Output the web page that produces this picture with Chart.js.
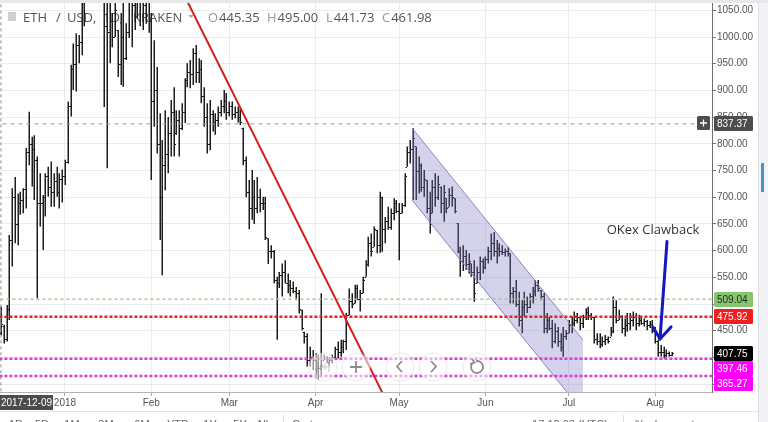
<!DOCTYPE html>
<html>
<head>
<meta charset="utf-8">
<script src="https://cdn.jsdelivr.net/npm/chart.js@4.4.1/dist/chart.umd.min.js"></script>
<style>
  html, body { margin: 0; padding: 0; background: #fff; }
  #wrap { width: 768px; height: 422px; }
</style>
</head>
<body>
<div id="wrap"><canvas id="ethChart" width="768" height="422"></canvas></div>
<script>
// ETH / USD daily bars (Kraken), day 0 = 2017-12-09, one value per day
const opens = [
  445.35, 458, 435, 490, 620, 700, 650, 690, 695, 715,
  785, 800, 790, 770, 690, 690, 700, 740, 720, 710,
  730, 710, 735, 740, 765, 870, 940, 950, 985, 990,
  1090, 1150, 1230, 1150, 1300, 1400, 1340, 1280, 1020, 1010,
  1030, 1000, 1013, 950, 1000, 960, 1010, 1080, 1060, 1100,
  1120, 1100, 1060, 1110, 1030, 880, 900, 800, 700, 760,
  780, 820, 860, 820, 845, 830, 860, 920, 935, 930,
  970, 935, 940, 890, 850, 800, 855, 840, 845, 860,
  870, 880, 860, 870, 855, 860, 850, 830, 770, 710,
  680, 700, 680, 700, 690, 690, 623, 600, 600, 545,
  540, 555, 560, 540, 535, 530, 525, 520, 489, 448,
  440, 395, 400, 395, 380, 380, 395, 398, 392, 395,
  400, 415, 410, 420, 430, 480, 505, 501, 530, 510,
  520, 551, 575, 615, 607, 639, 610, 700, 640, 655,
  645, 670, 690, 675, 670, 685, 757, 785, 790, 795,
  750, 760, 720, 732, 680, 670, 720, 700, 720, 690,
  698, 682, 705, 698, 651, 600, 580, 590, 575, 576,
  560, 539, 560, 580, 570, 585, 600, 615, 600, 605,
  600, 598, 600, 595, 520, 525, 500, 470, 495, 500,
  495, 515, 525, 535, 526, 515, 455, 470, 455, 430,
  450, 430, 420, 440, 445, 460, 465, 470, 475, 465,
  475, 485, 480, 475, 435, 430, 425, 430, 435, 439,
  450, 495, 470, 475, 455, 460, 465, 470, 475, 465,
  470, 465, 468, 460, 462, 450, 430, 410, 410, 405,
  408, 405
]
const highs = [
  495, 461, 498, 629, 717, 738, 707, 710, 717, 792,
  860, 813, 816, 776, 745, 704, 745, 757, 767, 745,
  757, 745, 752, 770, 879, 948, 988, 1007, 1004, 1100,
  1180, 1250, 1300, 1320, 1420, 1410, 1380, 1300, 1120, 1080,
  1045, 1090, 1013, 1045, 1075, 1026, 1100, 1110, 1120, 1150,
  1200, 1180, 1150, 1130, 1045, 994, 944, 857, 807, 863,
  850, 882, 906, 863, 863, 876, 923, 951, 957, 979,
  985, 960, 957, 906, 876, 882, 863, 857, 870, 882,
  901, 895, 879, 879, 870, 870, 865, 830, 776, 732,
  751, 732, 738, 716, 701, 701, 623, 610, 601, 551,
  560, 576, 582, 557, 545, 542, 532, 526, 489, 448,
  445, 420, 414, 408, 405, 520, 405, 402, 400, 405,
  420, 430, 433, 433, 483, 529, 520, 536, 536, 526,
  551, 582, 626, 632, 645, 639, 710, 701, 663, 682,
  679, 698, 695, 689, 689, 745, 795, 807, 829, 795,
  776, 763, 751, 732, 710, 732, 745, 740, 720, 723,
  698, 717, 720, 698, 651, 607, 610, 601, 595, 576,
  582, 570, 589, 585, 589, 607, 632, 635, 620, 614,
  610, 604, 607, 595, 532, 545, 523, 507, 523, 514,
  520, 532, 545, 545, 526, 520, 483, 476, 470, 464,
  457, 445, 457, 451, 470, 476, 486, 483, 476, 480,
  492, 495, 483, 476, 445, 445, 439, 442, 439, 457,
  514, 507, 489, 479, 473, 483, 483, 486, 483, 480,
  476, 473, 470, 468, 470, 457, 433, 423, 420, 415,
  411, 410
]
const lows = [
  441.73, 426, 430, 470, 570, 614, 610, 667, 670, 679,
  760, 720, 695, 511, 645, 601, 664, 701, 682, 682,
  701, 679, 690, 723, 763, 851, 901, 898, 951, 966,
  1020, 1090, 1130, 1120, 1230, 1250, 1200, 869, 754, 951,
  981, 1000, 925, 910, 907, 957, 998, 981, 1013, 1035,
  1020, 1013, 1025, 1008, 732, 832, 782, 620, 554, 713,
  745, 776, 776, 817, 776, 826, 839, 906, 904, 910,
  914, 914, 876, 832, 782, 788, 823, 817, 832, 851,
  857, 845, 851, 845, 848, 840, 835, 760, 700, 640,
  658, 650, 670, 672, 676, 620, 575, 585, 539, 433,
  530, 514, 539, 520, 514, 520, 507, 482, 451, 426,
  383, 383, 376, 361, 358, 363, 395, 389, 385, 389,
  395, 398, 401, 408, 414, 479, 492, 501, 507, 486,
  520, 551, 570, 589, 607, 595, 596, 598, 614, 639,
  639, 657, 670, 582, 670, 682, 757, 763, 695, 695,
  707, 710, 701, 670, 632, 670, 682, 695, 670, 654,
  670, 682, 682, 670, 595, 551, 562, 564, 557, 551,
  504, 539, 545, 557, 565, 576, 582, 589, 576, 589,
  592, 589, 589, 501, 501, 495, 458, 445, 476, 483,
  492, 501, 514, 523, 507, 445, 445, 451, 417, 426,
  420, 411, 401, 433, 445, 445, 458, 464, 451, 455,
  470, 470, 470, 426, 423, 417, 420, 423, 426, 439,
  445, 464, 470, 445, 439, 448, 451, 458, 451, 458,
  461, 458, 451, 455, 445, 426, 401, 401, 398, 400,
  401, 402
]
const closes = [
  461.98, 435, 490, 620, 700, 650, 690, 695, 715, 785,
  800, 790, 770, 690, 690, 700, 740, 720, 710, 730,
  710, 735, 740, 765, 870, 940, 950, 985, 990, 1090,
  1150, 1230, 1150, 1300, 1400, 1340, 1280, 1020, 1010, 1030,
  1000, 1050, 950, 1000, 960, 1010, 1080, 1060, 1100, 1120,
  1100, 1060, 1110, 1030, 880, 900, 800, 700, 760, 780,
  820, 860, 800, 845, 830, 860, 920, 935, 930, 970,
  935, 940, 890, 850, 800, 855, 840, 845, 860, 870,
  880, 860, 870, 855, 860, 850, 840, 770, 710, 680,
  700, 680, 700, 690, 690, 625, 600, 600, 545, 540,
  555, 560, 540, 535, 530, 525, 520, 490, 455, 440,
  395, 400, 395, 380, 380, 385, 398, 392, 395, 400,
  415, 410, 420, 430, 480, 505, 500, 530, 510, 520,
  545, 575, 615, 600, 640, 610, 700, 640, 655, 645,
  670, 690, 675, 670, 685, 740, 785, 790, 810, 750,
  760, 720, 735, 680, 650, 720, 700, 725, 690, 710,
  680, 705, 700, 675, 600, 580, 590, 575, 580, 560,
  520, 560, 580, 570, 585, 600, 615, 600, 605, 600,
  598, 600, 595, 520, 525, 500, 470, 495, 500, 495,
  515, 525, 535, 530, 515, 455, 470, 455, 430, 450,
  430, 420, 440, 445, 460, 465, 470, 475, 465, 475,
  485, 480, 475, 435, 430, 425, 430, 435, 430, 450,
  495, 470, 475, 455, 460, 465, 470, 475, 465, 470,
  465, 468, 460, 462, 450, 430, 410, 410, 405, 408,
  405, 407.75
]

// time axis: day index of each month start and its label
const monthDays = [23, 54, 82, 113, 143, 174, 204, 235]
const monthLabels = ['2018', 'Feb', 'Mar', 'Apr', 'May', 'Jun', 'Jul', 'Aug']
const priceTicks = [350, 400, 450, 500, 550, 600, 650, 700, 750, 800, 850, 900, 950, 1000, 1050]
const dayRange = [-0.34, 255.4]
const priceRange = [335.2, 1063.7]

// drawn levels
const greenLevel = 509.04
const redLevel = 475.92
const magentaLevels = [397.46, 365.27]
const lastPrice = 407.75
const crossPrice = 837.37
const crossDate = '2017-12-09'

// drawings, in [day, price]
const trendLine = [[65, 1087], [139, 313]]
const channelTop = [[147.65, 829.6], [209.07, 432.6]]
const channelBottom = [[147.65, 694.8], [209.07, 297.8]]
const arrowShaft = [[239.24, 617.1], [236.73, 434.5]]
const arrowHead = [[234.2, 457.0], [236.73, 434.5], [240.68, 457.0]]
const noteText = 'OKex Clawback'
const notePos = [234.2, 631]

const pts = arr => arr.map(p => ({ x: p[0], y: p[1] }))
const hLine = v => [{ x: dayRange[0] - 2, y: v }, { x: dayRange[1] + 2, y: v }]
const AXIS_FONT = { family: 'Liberation Sans, Arial, sans-serif', size: 10 }

const lineDefaults = { type: 'line', pointRadius: 0, fill: false, tension: 0 }

const datasets = [
  { ...lineDefaults, data: pts(arrowShaft), borderColor: '#1616c4', borderWidth: 3, borderCapStyle: 'round' },
  { ...lineDefaults, data: pts(arrowHead), borderColor: '#1616c4', borderWidth: 3, borderCapStyle: 'round', borderJoinStyle: 'round' },
  { ...lineDefaults, data: pts(trendLine), borderColor: '#d11f1f', borderWidth: 2 },
  { ...lineDefaults, data: hLine(greenLevel), borderColor: '#9fcd8c', borderWidth: 1.5, borderDash: [3, 3] },
  { ...lineDefaults, data: hLine(redLevel), borderColor: '#e8231d', borderWidth: 2.5, borderDash: [3, 2] },
  { ...lineDefaults, data: hLine(magentaLevels[0]), borderColor: '#dc3bdc', borderWidth: 2.5, borderDash: [3, 2] },
  { ...lineDefaults, data: hLine(magentaLevels[1]), borderColor: '#dc3bdc', borderWidth: 2.5, borderDash: [3, 2] },
  { ...lineDefaults, data: hLine(crossPrice), borderColor: '#9a9a9a', borderWidth: 1, borderDash: [4, 4] },
  { ...lineDefaults, data: [{ x: 0, y: priceRange[0] - 10 }, { x: 0, y: priceRange[1] + 10 }], borderColor: '#8a8a8a', borderWidth: 1, borderDash: [3, 3] },
  { ...lineDefaults, data: pts(channelTop), borderColor: '#8d86c0', borderWidth: 1, fill: '+1', backgroundColor: 'rgba(128,118,196,0.33)' },
  { ...lineDefaults, data: pts(channelBottom), borderColor: '#8d86c0', borderWidth: 1 }
]

// OHLC bars and the pane legend, under the drawings
const barsPlugin = {
  id: 'ohlcBars',
  beforeDatasetsDraw(chart) {
    const { ctx, chartArea: a, scales: { x, y } } = chart
    ctx.save()
    ctx.beginPath()
    ctx.rect(a.left, a.top, a.width, a.height)
    ctx.clip()

    // legend
    ctx.fillStyle = '#cfcfcf'
    ctx.fillRect(8, 12, 8, 9)
    ctx.font = '13px "Open Sans", sans-serif'
    ctx.textBaseline = 'alphabetic'
    ctx.fillStyle = '#555'
    ;[['ETH', 23], ['/', 56], ['USD,', 67], ['1D,', 103], ['KRAKEN', 133]].forEach(([t, px]) => ctx.fillText(t, px, 22))
    ctx.fillStyle = '#aaa'
    ctx.beginPath(); ctx.moveTo(188, 15); ctx.lineTo(194, 15); ctx.lineTo(191, 18); ctx.fill()
    const ohlc = [['O', opens[0], 208], ['H', highs[0], 267], ['L', lows[0], 326], ['C', closes[0], 382]]
    ohlc.forEach(([k, v, px]) => {
      ctx.fillStyle = '#999'
      ctx.fillText(k, px, 22)
      ctx.fillStyle = '#555'
      ctx.fillText(v.toFixed(2), px + ctx.measureText(k).width + 1, 22)
    })

    // bars
    ctx.strokeStyle = '#1d1d1d'
    ctx.lineWidth = 1.5
    ctx.beginPath()
    highs.forEach((h, i) => {
      const px = Math.round(x.getPixelForValue(i)) + 0.25
      ctx.moveTo(px, y.getPixelForValue(h))
      ctx.lineTo(px, y.getPixelForValue(lows[i]))
    })
    ctx.stroke()
    ctx.lineWidth = 1
    ctx.beginPath()
    opens.forEach((o, i) => {
      const px = Math.round(x.getPixelForValue(i))
      const po = Math.round(y.getPixelForValue(o)) + 0.5
      const pc = Math.round(y.getPixelForValue(closes[i])) + 0.5
      ctx.moveTo(px - 1.5, po); ctx.lineTo(px, po)
      ctx.moveTo(px + 0.5, pc); ctx.lineTo(px + 2, pc)
    })
    ctx.stroke()
    ctx.restore()
  }
}

function roundBox(ctx, x0, y0, w, h, r) {
  ctx.beginPath()
  ctx.moveTo(x0 + r, y0)
  ctx.arcTo(x0 + w, y0, x0 + w, y0 + h, r)
  ctx.arcTo(x0 + w, y0 + h, x0, y0 + h, r)
  ctx.arcTo(x0, y0 + h, x0, y0, r)
  ctx.arcTo(x0, y0, x0 + w, y0, r)
  ctx.closePath()
}

const chromePlugin = {
  id: 'chrome',
  beforeDraw(chart) {
    const { ctx, width, height } = chart
    ctx.save()
    ctx.fillStyle = '#fff'
    ctx.fillRect(0, 0, width, height)
    ctx.fillStyle = '#e6e8ec'
    ctx.fillRect(0, 0, width, 3)
    ctx.fillStyle = '#f1f3f6'
    ctx.fillRect(758, 3, 10, height)
    ctx.fillStyle = '#d9dce1'
    ctx.fillRect(758, 3, 1, height)
    ctx.fillStyle = '#4b93c3'
    ctx.fillRect(761, 163, 3, 29)
    ctx.fillStyle = '#e3e5e9'
    ctx.fillRect(0, 411, 758, 1)
    ctx.restore()
  },
  afterDraw(chart) {
    const { ctx, chartArea: a, scales: { x, y } } = chart
    ctx.save()

    // note text
    ctx.font = '13px "Open Sans", sans-serif'
    ctx.fillStyle = '#333'
    ctx.textAlign = 'center'
    ctx.textBaseline = 'alphabetic'
    ctx.fillText(noteText, x.getPixelForValue(notePos[0]), y.getPixelForValue(notePos[1]))

    // chart navigation buttons
    ;[323, 356, 400, 433, 477].forEach(cx => {
      ctx.fillStyle = 'rgba(255,255,255,0.55)'
      ctx.beginPath(); ctx.arc(cx, 367, 14, 0, Math.PI * 2); ctx.fill()
      ctx.strokeStyle = 'rgba(210,210,210,0.5)'; ctx.lineWidth = 1; ctx.stroke()
    })
    ctx.strokeStyle = '#8c8c8c'
    ctx.lineWidth = 1.8
    ctx.beginPath()
    ctx.moveTo(350, 367); ctx.lineTo(362, 367); ctx.moveTo(356, 361); ctx.lineTo(356, 373)
    ctx.moveTo(402, 361); ctx.lineTo(397, 366.5); ctx.lineTo(402, 372)
    ctx.moveTo(431, 361); ctx.lineTo(436, 366.5); ctx.lineTo(431, 372)
    ctx.stroke()
    ctx.beginPath(); ctx.arc(477, 367, 6, -Math.PI * 0.55, Math.PI * 1.2); ctx.stroke()
    ctx.beginPath(); ctx.moveTo(472, 359); ctx.lineTo(474.5, 362.5); ctx.lineTo(470, 364); ctx.stroke()
    ctx.strokeStyle = 'rgba(140,140,140,0.45)'
    ctx.lineWidth = 1.2
    ctx.beginPath()
    ctx.moveTo(317, 362); ctx.lineTo(317, 372); ctx.moveTo(329, 362); ctx.lineTo(329, 372)
    ctx.moveTo(317, 367); ctx.lineTo(329, 367); ctx.moveTo(321, 364); ctx.lineTo(321, 370); ctx.moveTo(325, 364); ctx.lineTo(325, 370)
    ctx.stroke()

    // price labels on the axis, pushed down where they overlap
    ctx.font = '10px "Liberation Sans", Arial, sans-serif'
    ctx.textAlign = 'left'
    ctx.textBaseline = 'middle'
    const labels = [
      [crossPrice, '#4d4d4d', '#fff'],
      [greenLevel, '#86c46f', '#1e2a1a'],
      [redLevel, '#ef1f1f', '#fff'],
      [lastPrice, '#000', '#fff'],
      [magentaLevels[0], '#ff00ff', '#fff'],
      [magentaLevels[1], '#ff00ff', '#fff']
    ].map(l => ({ v: l[0], bg: l[1], fg: l[2], py: y.getPixelForValue(l[0]) }))
      .sort((p, q) => p.py - q.py)
    let prevBottom = -Infinity
    labels.forEach(l => {
      const top = Math.max(Math.round(l.py - 7.5), prevBottom)
      prevBottom = top + 15
      ctx.fillStyle = l.bg
      roundBox(ctx, a.right + 2, top, 39, 15, 1.5)
      ctx.fill()
      ctx.fillStyle = l.fg
      ctx.fillText(l.v.toFixed(2), a.right + 5, top + 8)
    })
    // crosshair "+" button
    const cy = Math.round(y.getPixelForValue(crossPrice) - 7.5)
    ctx.fillStyle = '#4d4d4d'
    roundBox(ctx, a.right - 15, cy, 13, 14, 1.5)
    ctx.fill()
    ctx.strokeStyle = '#fff'
    ctx.lineWidth = 1.3
    ctx.beginPath()
    ctx.moveTo(a.right - 12, cy + 7); ctx.lineTo(a.right - 5, cy + 7)
    ctx.moveTo(a.right - 8.5, cy + 3.5); ctx.lineTo(a.right - 8.5, cy + 10.5)
    ctx.stroke()

    // crosshair date on the time axis
    ctx.fillStyle = '#4c4c4c'
    ctx.fillRect(0, a.bottom + 3, 53, 15)
    ctx.fillStyle = '#fff'
    ctx.textAlign = 'center'
    ctx.fillText(crossDate, 26.5, a.bottom + 11)

    // bottom toolbar, cut off by the frame
    ctx.font = '11px "Liberation Sans", Arial, sans-serif'
    ctx.fillStyle = '#666'
    ctx.textBaseline = 'alphabetic'
    ;[['1D', 16], ['5D', 42], ['1M', 72], ['3M', 106], ['6M', 142], ['YTD', 178], ['1Y', 210], ['5Y', 240], ['All', 262], ['Go to...', 310],
      ['17:12:03 (UTC)', 570], ['%', 640], ['log', 662], ['auto', 690]].forEach(([t, px]) => ctx.fillText(t, px, 427.5))
    ctx.fillStyle = '#ddd'
    ctx.fillRect(283, 415, 1, 7)
    ctx.fillRect(623, 415, 1, 7)
    ctx.restore()
  }
}

new Chart(document.getElementById('ethChart'), {
  type: 'scatter',
  data: { datasets },
  options: {
    responsive: false,
    animation: false,
    events: [],
    layout: { padding: { top: 3, right: 10, left: 0, bottom: 0 } },
    plugins: { legend: { display: false }, tooltip: { enabled: false } },
    scales: {
      x: {
        type: 'linear',
        position: 'bottom',
        min: dayRange[0],
        max: dayRange[1],
        afterBuildTicks: s => { s.ticks = monthDays.map(v => ({ value: v })) },
        afterFit: s => { s.height = 30; s.paddingLeft = 0; s.paddingRight = 0 },
        ticks: {
          autoSkip: false,
          maxRotation: 0,
          padding: 1,
          color: '#555',
          font: AXIS_FONT,
          callback: (v, i) => monthLabels[i]
        },
        grid: { color: '#ececec', tickColor: '#aaa', tickLength: 4 },
        border: { color: '#b3b3b3' }
      },
      y: {
        type: 'linear',
        position: 'right',
        min: priceRange[0],
        max: priceRange[1],
        afterBuildTicks: s => { s.ticks = priceTicks.map(v => ({ value: v })) },
        afterFit: s => { s.width = 46; s.paddingTop = 0; s.paddingBottom = 0 },
        ticks: {
          autoSkip: false,
          padding: 1,
          color: '#555',
          font: AXIS_FONT,
          callback: v => v.toFixed(2)
        },
        grid: { color: '#ececec', tickColor: '#777', tickLength: 4 },
        border: { color: '#6e6e6e' }
      }
    }
  },
  plugins: [chromePlugin, barsPlugin]
})
</script>
</body>
</html>
